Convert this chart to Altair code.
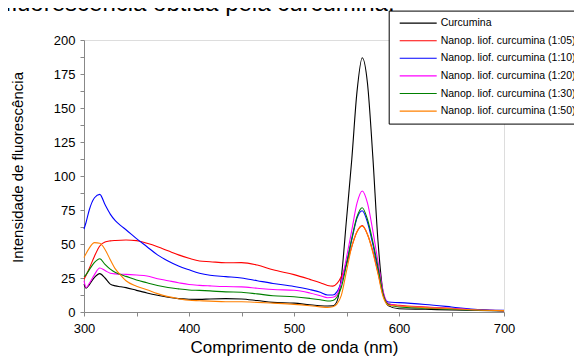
import altair as alt
import pandas as pd

# wavelengths (nm)
wavelength = [300, 302, 305, 310, 315, 320, 325, 330, 335, 340, 350, 360, 370, 380, 390,
              400, 410, 420, 435, 450, 465, 480, 500, 515, 525, 532, 537, 541, 545, 550,
              555, 560, 565, 570, 575, 580, 585, 590, 600, 625, 650, 675, 700]

curcumina = [20.5, 17.5, 20, 25.5, 28.2, 25, 20.5, 19.2, 18.6, 17.9, 15.9, 14, 12.3, 10.8, 9.8,
             9.4, 9.3, 9.6, 9.8, 9.6, 8.4, 7.1, 6.5, 5.3, 4.6, 4.4, 4.5, 8, 25, 68,
             112, 162, 187, 168, 115, 52, 14, 4.5, 2.4, 2.0, 1.5, 1.2, 0.8]
np_105 = [24, 27, 32, 41, 48.5, 51.5, 52.3, 52.6, 52.8, 52.9, 52.5, 50.5, 48, 45, 42,
          39.5, 37.5, 37, 36.2, 36.3, 34.5, 31, 27.5, 24, 21.5, 19.5, 19, 21, 26, 35,
          48, 59, 63.5, 57, 45, 29, 12, 6, 4.9, 3.7, 2.7, 1.6, 1.0]
np_110 = [61, 66, 75, 84, 86.5, 79, 72, 67, 63.5, 60.5, 54, 48, 42, 37.5, 33.8,
          31, 28.5, 27, 26, 25, 23, 21, 18.8, 16.5, 14.5, 12.5, 12.5, 15, 22, 36,
          53, 69, 74.5, 66, 50, 31, 13, 7.3, 6.9, 5.5, 3.7, 1.8, 1.2]
np_120 = [23, 18, 21, 27.5, 32.3, 30.5, 28.5, 28, 27.8, 27.7, 27.2, 26.5, 24.5, 23, 21.5,
          20.2, 19.6, 19.2, 18.7, 18.5, 17.5, 16.5, 16, 14, 12, 10.5, 10.8, 13, 22, 40,
          60, 80, 89, 80, 60, 37, 15, 6, 4.4, 3.4, 2.5, 1.5, 1.0]
np_130 = [26, 27.5, 31, 36.5, 39.2, 35, 31.5, 29, 27.5, 26.2, 23.5, 21.5, 19.5, 18, 17,
          16.2, 15.9, 15.5, 14.8, 14.5, 13.3, 12, 11.2, 10, 9, 8.1, 8.5, 11, 18, 35,
          54, 70, 76.7, 68, 52, 33, 13, 5.5, 3.7, 2.8, 2.0, 1.3, 0.9]
np_150 = [40, 43, 47, 51, 50.5, 46, 38.5, 31.5, 27, 23, 19, 16.3, 13.5, 11.3, 9.8,
          8.6, 8.3, 8.0, 7.5, 7.5, 7.1, 6.5, 5.6, 4.6, 3.8, 3.3, 3.8, 6, 12, 30,
          48, 59, 63, 57, 44, 28, 11, 5, 4.4, 3.2, 2.4, 1.5, 1.0]

series_names = ["Curcumina",
                "Nanop. liof. curcumina (1:05)",
                "Nanop. liof. curcumina (1:10)",
                "Nanop. liof. curcumina (1:20)",
                "Nanop. liof. curcumina (1:30)",
                "Nanop. liof. curcumina (1:50)"]
series_colors = ["#000000", "#ff0000", "#0000ff", "#ff00ff", "#008000", "#ff8000"]

x_ticks = [300, 350, 400, 450, 500, 550, 600, 650, 700]
y_ticks = [0, 12.5, 25, 37.5, 50, 62.5, 75, 87.5, 100, 112.5, 125, 137.5, 150, 162.5, 175, 187.5, 200]

# caption line of the page above the figure (cut off at the top)
caption = ["fluorescência obtida pela curcumina."]

rows = []
for name, vals in zip(series_names, [curcumina, np_105, np_110, np_120, np_130, np_150]):
    for w, v in zip(wavelength, vals):
        rows.append({"wl": w, "val": v, "serie": name})
df = pd.DataFrame(rows)

FONT = "Liberation Sans"

lines = alt.Chart(df).mark_line(interpolate="monotone", strokeWidth=1.1).encode(
    x=alt.X("wl:Q",
            scale=alt.Scale(domain=[300, 700], nice=False, zero=False),
            axis=alt.Axis(values=x_ticks,
                          labelExpr="datum.value % 100 == 0 ? datum.label : ''",
                          title="Comprimento de onda (nm)",
                          grid=False, tickSize=4, labelPadding=6,
                          labelFontSize=13, titleFontSize=17, titlePadding=4,
                          titleFontWeight="normal", titleFont=FONT,
                          labelFlush=False)),
    y=alt.Y("val:Q",
            scale=alt.Scale(domain=[0, 200], nice=False),
            axis=alt.Axis(values=y_ticks,
                          labelExpr="datum.value % 25 == 0 ? datum.label : ''",
                          title="Intensidade de fluorescência",
                          grid=False, tickSize=4, labelPadding=5,
                          labelFontSize=13, titleFontSize=15, titlePadding=28,
                          titleFontWeight="normal", titleFont=FONT,
                          titleY=127)),
    color=alt.Color("serie:N",
                    scale=alt.Scale(domain=series_names, range=series_colors),
                    sort=series_names,
                    legend=alt.Legend(title=None, orient="none",
                                      legendX=304.7, legendY=-29.4,
                                      strokeColor="black", fillColor="white",
                                      padding=7, symbolType="stroke",
                                      symbolSize=1369, symbolStrokeWidth=1.1,
                                      clipHeight=11, rowPadding=6.6,
                                      labelFontSize=10.5, labelFont=FONT,
                                      labelColor="black", labelOffset=3,
                                      symbolOffset=3, labelLimit=0)),
)

cap = alt.Chart(pd.DataFrame({"t": caption})).mark_text(
    align="left", baseline="alphabetic", fontSize=24, font=FONT, color="black"
).encode(x=alt.value(-79), y=alt.value(-29.4), text="t:N")

chart = alt.layer(lines, cap).properties(
    width=420, height=272,
    autosize=alt.AutoSizeParams(type="none"),
    padding={"left": 76, "top": 32, "right": 70, "bottom": 44},
).configure_view(stroke=None).configure_axis(
    domainColor="black", tickColor="black", labelColor="black", titleColor="black",
    labelFont=FONT, titleFont=FONT, titleFontWeight="normal"
).configure(background="white")

chart.save("out.html", embed_options={"renderer": "svg", "actions": False})
